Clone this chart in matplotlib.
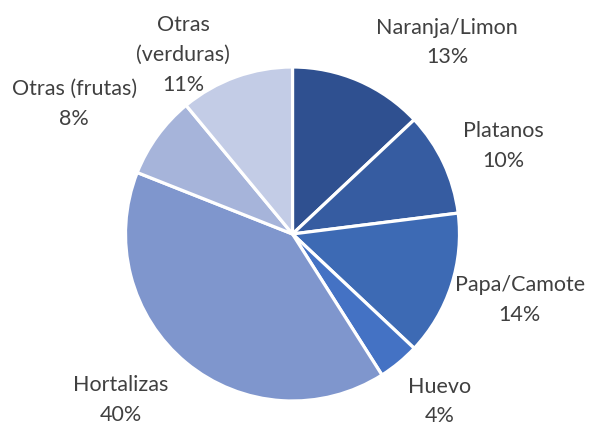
import matplotlib.pyplot as plt

# Data
labels = ['Naranja/Limon', 'Platanos', 'Papa/Camote', 'Huevo', 'Hortalizas',
          'Otras (frutas)', 'Otras\n(verduras)']
values = [13, 10, 14, 4, 40, 8, 11]
colors = ['#2F5090', '#365CA1', '#3D6AB4', '#4472C4', '#7F96CD', '#A6B4DA', '#C3CCE6']

# label positions (data coords, pie radius = 1)
label_pos = [(0.925, 1.147), (1.26, 0.527), (1.36, -0.395), (0.88, -1.003),
             (-1.026, -0.994), (-1.308, 0.778), (-0.656, 1.072)]

fig = plt.figure(figsize=(6.03, 4.25), dpi=100)
ax = fig.add_axes([125.5 / 603, 24 / 425, 334 / 603, 334 / 425])

ax.pie(values, colors=colors, startangle=90, counterclock=False, radius=1,
       wedgeprops=dict(edgecolor='white', linewidth=2.3))

for lab, v, (x, y) in zip(labels, values, label_pos):
    ax.text(x, y, f'{lab}\n{v}%', ha='center', va='center', fontsize=15.5,
            color='#404040', family='Lato', linespacing=1.6)

ax.set_xlim(-1, 1)
ax.set_ylim(-1, 1)
ax.set_aspect('equal')
ax.axis('off')

fig.savefig('out.png', dpi=100)
